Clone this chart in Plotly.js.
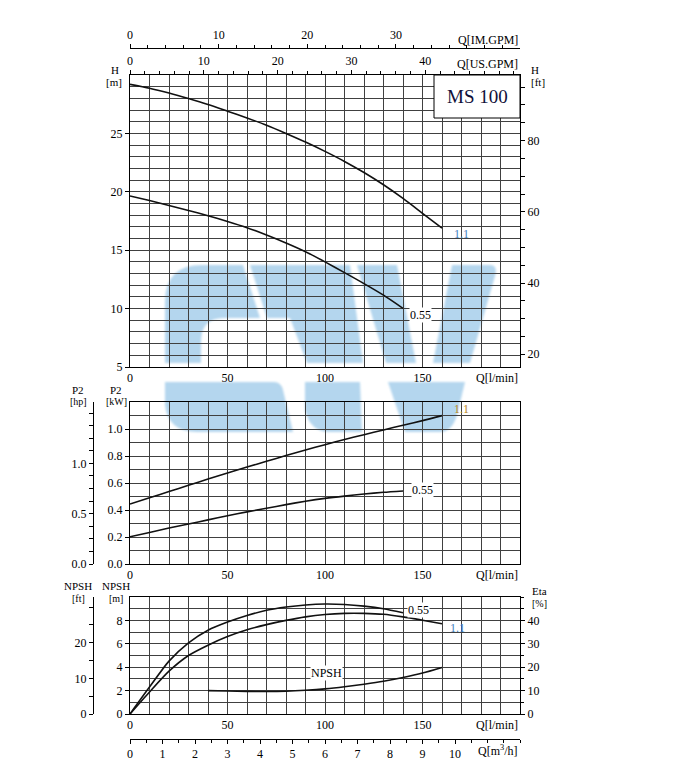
<!DOCTYPE html>
<html><head><meta charset="utf-8">
<script src="https://cdn.plot.ly/plotly-3.0.1.min.js"></script>
<style>
body{margin:0;background:#fff}
#wrap{position:relative;width:677px;height:780px}
#wm,#chart{position:absolute;left:0;top:0}
</style>
</head><body>
<div id="wrap">
<svg id="wm" width="677" height="780">
<defs><filter id="bl"><feGaussianBlur stdDeviation="1.2"/></filter></defs>
<g fill="#b4d6ee" filter="url(#bl)">
<path d="M165,363 L165,302 Q165,265 202,265 L243,265 L260,318 L224,318 Q201,318 201,342 L201,363 Z"/>
<path d="M250,265 L350,265 L363,363 L307,363 L290,318 L267,318 Z"/>
<path d="M357,265 L397,265 L416,363 L386,363 Z"/>
<path d="M452,265 L490,265 Q498,265 495,276 L470,363 L433,363 Z"/>
<path d="M165,382 L274,382 Q281,382 283,390 L293,432 L197,432 Q168,432 165,405 Z"/>
<path d="M305,382 L360,382 L362,432 L330,432 Q310,432 305,410 Z"/>
<path d="M388,382 L465,382 L457,415 Q452,432 440,432 L405,432 Z"/>
</g>
</svg>
<div id="chart" style="width:677px;height:780px"></div>
</div>
<script>
// ---------- data ----------
const Q_H11 = [0,10,20,30,40,50,60,70,80,90,100,110,120,130,140,150,160];
const H_11  = [29.2,28.87,28.45,27.98,27.47,26.9,26.32,25.7,25.0,24.26,23.46,22.6,21.65,20.6,19.43,18.16,16.88];
const Q_H055 = [0,10,20,30,40,50,60,70,80,90,100,110,120,130,140];
const H_055  = [19.64,19.25,18.83,18.4,17.95,17.46,16.93,16.3,15.62,14.87,14.0,13.08,12.14,11.15,10.02];

const Q_P11 = [0,10,20,30,40,50,60,70,80,90,100,110,120,130,140,150,160];
const P_11  = [0.444,0.49,0.537,0.583,0.629,0.674,0.718,0.761,0.803,0.844,0.884,0.922,0.958,0.993,1.028,1.062,1.099];
const Q_P055 = [0,10,20,30,40,50,60,70,80,90,100,110,120,130,140];
const P_055  = [0.202,0.234,0.266,0.296,0.327,0.357,0.386,0.413,0.44,0.465,0.486,0.503,0.518,0.531,0.541];

const Q_E055 = [0,10,20,30,40,50,60,70,80,90,100,110,120,130,140];
const ETA_055 = [0,11.5,22.6,30.4,35.8,39.3,42.1,44.3,45.7,46.6,47.0,46.8,46.1,45.0,43.3];
const Q_E11 = [0,10,20,30,40,50,60,70,80,90,100,110,120,130,140,150,160];
const ETA_11 = [0,9.4,18.3,25.0,29.4,33.1,36.0,38.2,40.0,41.5,42.5,43.0,43.0,42.6,41.5,40.1,38.6];

const Q_NPSH = [40,50,60,70,80,90,100,110,120,130,140,150,160];
const NPSH_M = [2.0,1.96,1.93,1.92,1.95,2.03,2.15,2.33,2.55,2.8,3.12,3.5,3.98];

const Q_TICKS = [0,50,100,150];
const H_TICKS = [5,10,15,20,25];
const HFT_TICKS = [20,40,60,80];
const USGPM_TICKS = [0,10,20,30,40];
const IMGPM_TICKS = [0,10,20,30];
const KW_TICKS = [0,0.2,0.4,0.6,0.8,1.0];
const HP_TICKS = [0,0.5,1.0];
const NPSHM_TICKS = [0,2,4,6,8];
const NPSHFT_TICKS = [0,10,20];
const ETA_TICKS = [0,10,20,30,40];
const M3H_TICKS = [0,1,2,3,4,5,6,7,8,9,10];

// ---------- layout geometry (pixels) ----------
const L=93, R=520, T=48, B=739;
const PW=R-L, PH=B-T;
const fx = p => (p-L)/PW;
const fy = p => (B-p)/PH;
const QMAX = 200;

const FONT = "'Liberation Serif', serif";
const GRID = '#404040';
const line = (x,y,xa,ya) => ({x,y,xaxis:xa,yaxis:ya,type:'scatter',mode:'lines',
  line:{color:'#111',width:1.6,shape:'spline',smoothing:0.7},hoverinfo:'skip',showlegend:false});
const dummy = (xa,ya) => ({x:[null],y:[null],xaxis:xa,yaxis:ya,type:'scatter',mode:'markers',
  marker:{opacity:0},hoverinfo:'skip',showlegend:false});

const data = [
  line(Q_H11,H_11,'x','y'),
  line(Q_H055,H_055,'x','y'),
  line(Q_P11,P_11,'x2','y2'),
  line(Q_P055,P_055,'x2','y2'),
  line(Q_E055,ETA_055,'x3','y6'),
  line(Q_E11,ETA_11,'x3','y6'),
  line(Q_NPSH,NPSH_M,'x3','y3'),
  dummy('x4','y'), dummy('x5','y'), dummy('x','y4'),
  dummy('x2','y5'), dummy('x3','y7'), dummy('x6','y3')
];

const xdom = [fx(130),1];
const TF = {family:FONT,size:12,color:'#000'};
const baseX = (anchor) => ({
  domain:xdom, anchor, range:[0,QMAX], tickvals:Q_TICKS, ticks:'', showline:true, mirror:true,
  linecolor:'#000', linewidth:1, showgrid:true, gridcolor:GRID, gridwidth:1, zeroline:false,
  minor:{dtick:10, showgrid:true, gridcolor:GRID, gridwidth:1}, tickfont:TF
});
const baseY = (dom, anchor, range, tv, md, fmt) => ({
  domain:dom, anchor, range, tickvals:tv, ticks:'outside', ticklen:4, tickcolor:'#000',
  showline:true, mirror:true, linecolor:'#000', linewidth:1, showgrid:true, gridcolor:GRID, gridwidth:1,
  zeroline:false, tickformat:fmt||'', minor:{dtick:md, showgrid:true, gridcolor:GRID, gridwidth:1},
  tickfont:TF
});
const sec = (o) => Object.assign({showgrid:false, zeroline:false, showline:true, linecolor:'#000', linewidth:1,
  ticks:'outside', ticklen:4, tickcolor:'#000', tickfont:TF}, o);

const yTop = [fy(367), fy(75)];
const yMid = [fy(564), fy(402)];
const yBot = [fy(714), fy(597)];

const layout = {
  width:677, height:780,
  margin:{l:L, r:677-R, t:T, b:780-B, pad:0},
  paper_bgcolor:'rgba(0,0,0,0)', plot_bgcolor:'rgba(0,0,0,0)',
  font:{family:FONT, size:12, color:'#000'},
  showlegend:false,
  xaxis: baseX('y'),
  yaxis: baseY(yTop,'x',[5,30],H_TICKS,1),
  xaxis2: baseX('y2'),
  yaxis2: baseY(yMid,'x2',[0,1.2],KW_TICKS,0.1,'.1f'),
  xaxis3: baseX('y3'),
  yaxis3: baseY(yBot,'x3',[0,10],NPSHM_TICKS,1),
  xaxis4: sec({overlaying:'x', anchor:'y', side:'top', range:[0,QMAX/3.78541], tickvals:USGPM_TICKS,
    minor:{dtick:2, ticks:'outside', ticklen:3, tickcolor:'#000'}}),
  xaxis5: sec({overlaying:'x', anchor:'free', position:1, side:'top', range:[0,QMAX/4.54609], tickvals:IMGPM_TICKS,
    minor:{dtick:2, ticks:'outside', ticklen:3, tickcolor:'#000'}}),
  yaxis4: sec({overlaying:'y', anchor:'x', side:'right', range:[5/0.3048,30/0.3048], tickvals:HFT_TICKS,
    minor:{dtick:5, ticks:'outside', ticklen:4, tickcolor:'#000'}}),
  yaxis5: sec({overlaying:'y2', anchor:'free', position:0, side:'left', range:[0,1.2/0.7457], tickvals:HP_TICKS,
    tickformat:'.1f', minor:{dtick:0.125, ticks:'outside', ticklen:4, tickcolor:'#000'}}),
  yaxis6: sec({overlaying:'y3', anchor:'x3', side:'right', range:[0,50], tickvals:ETA_TICKS,
    minor:{dtick:5, ticks:'outside', ticklen:3, tickcolor:'#000'}}),
  yaxis7: sec({overlaying:'y3', anchor:'free', position:0, side:'left', range:[0,10/0.3048], tickvals:NPSHFT_TICKS,
    minor:{dtick:5, ticks:'outside', ticklen:4, tickcolor:'#000'}}),
  xaxis6: sec({overlaying:'x3', anchor:'free', position:0, side:'bottom', range:[0,12], tickvals:M3H_TICKS,
    minor:{dtick:0.5, ticks:'outside', ticklen:3, tickcolor:'#000'}}),
  shapes:[
    {type:'rect', xref:'paper', yref:'paper', x0:fx(434), x1:fx(520), y0:fy(118), y1:fy(75),
     fillcolor:'#fff', line:{color:'#000', width:1}, layer:'above'}
  ],
  annotations:[]
};

const S11 = {family:FONT,size:11,color:'#000'};
const A = (text, px, py, o) => Object.assign({text, xref:'paper', yref:'paper', x:fx(px), y:fy(py),
  showarrow:false, xanchor:'center', yanchor:'middle', font:TF}, o||{});
const D = (text, xa, ya, x, y, color, bg) => ({text, xref:xa, yref:ya, x, y, showarrow:false,
  xanchor:'center', yanchor:'middle', bgcolor:bg||'rgba(0,0,0,0)', borderpad:0,
  font:{family:FONT,size:12,color:color||'#000'}});

layout.annotations.push(
  A('Q[IM.GPM]', 520, 40, {xanchor:'right'}),
  A('Q[US.GPM]', 520, 64, {xanchor:'right'}),
  A('H', 115, 70, {font:S11}), A('[m]', 114, 82, {font:S11}),
  A('H', 529, 70, {xanchor:'left', font:S11}), A('[ft]', 529, 82, {xanchor:'left', font:S11}),
  A('MS 100', 477, 97, {font:{family:FONT,size:19,color:'#10103a'}}),
  A('Q[l/min]', 520, 378, {xanchor:'right'}),
  A('P2', 116, 390, {font:S11}), A('[kW]', 116, 402, {font:{family:FONT,size:10,color:'#000'}}),
  A('P2', 78, 390, {font:S11}), A('[hp]', 78, 402, {font:{family:FONT,size:10,color:'#000'}}),
  A('Q[l/min]', 520, 575, {xanchor:'right'}),
  A('NPSH', 116, 586, {font:S11}), A('[m]', 116, 598, {font:{family:FONT,size:10,color:'#000'}}),
  A('NPSH', 78, 586, {font:S11}), A('[ft]', 78, 598, {font:{family:FONT,size:10,color:'#000'}}),
  A('Eta', 530, 591, {xanchor:'left', font:S11}), A('[%]', 530, 603, {xanchor:'left', font:{family:FONT,size:10,color:'#000'}}),
  A('Q[l/min]', 520, 725, {xanchor:'right'}),
  A('Q[m<sup>3</sup>/h]', 520, 750, {xanchor:'right'}),
  D('1.1','x','y',170,16.4,'#3f7fbf'),
  D('0.55','x','y',149,9.45,'#000','#fff'),
  D('1.1','x2','y2',170,1.148,'#b8861c'),
  D('0.55','x2','y2',150,0.548,'#000','#fff'),
  D('0.55','x3','y3',148,8.86,'#000','#fff'),
  D('1.1','x3','y3',168,7.39,'#3f7fbf'),
  D('NPSH','x3','y3',101,3.49,'#000','#fff')
);

Plotly.newPlot('chart', data, layout, {displayModeBar:false, staticPlot:true});
</script>
</body></html>
